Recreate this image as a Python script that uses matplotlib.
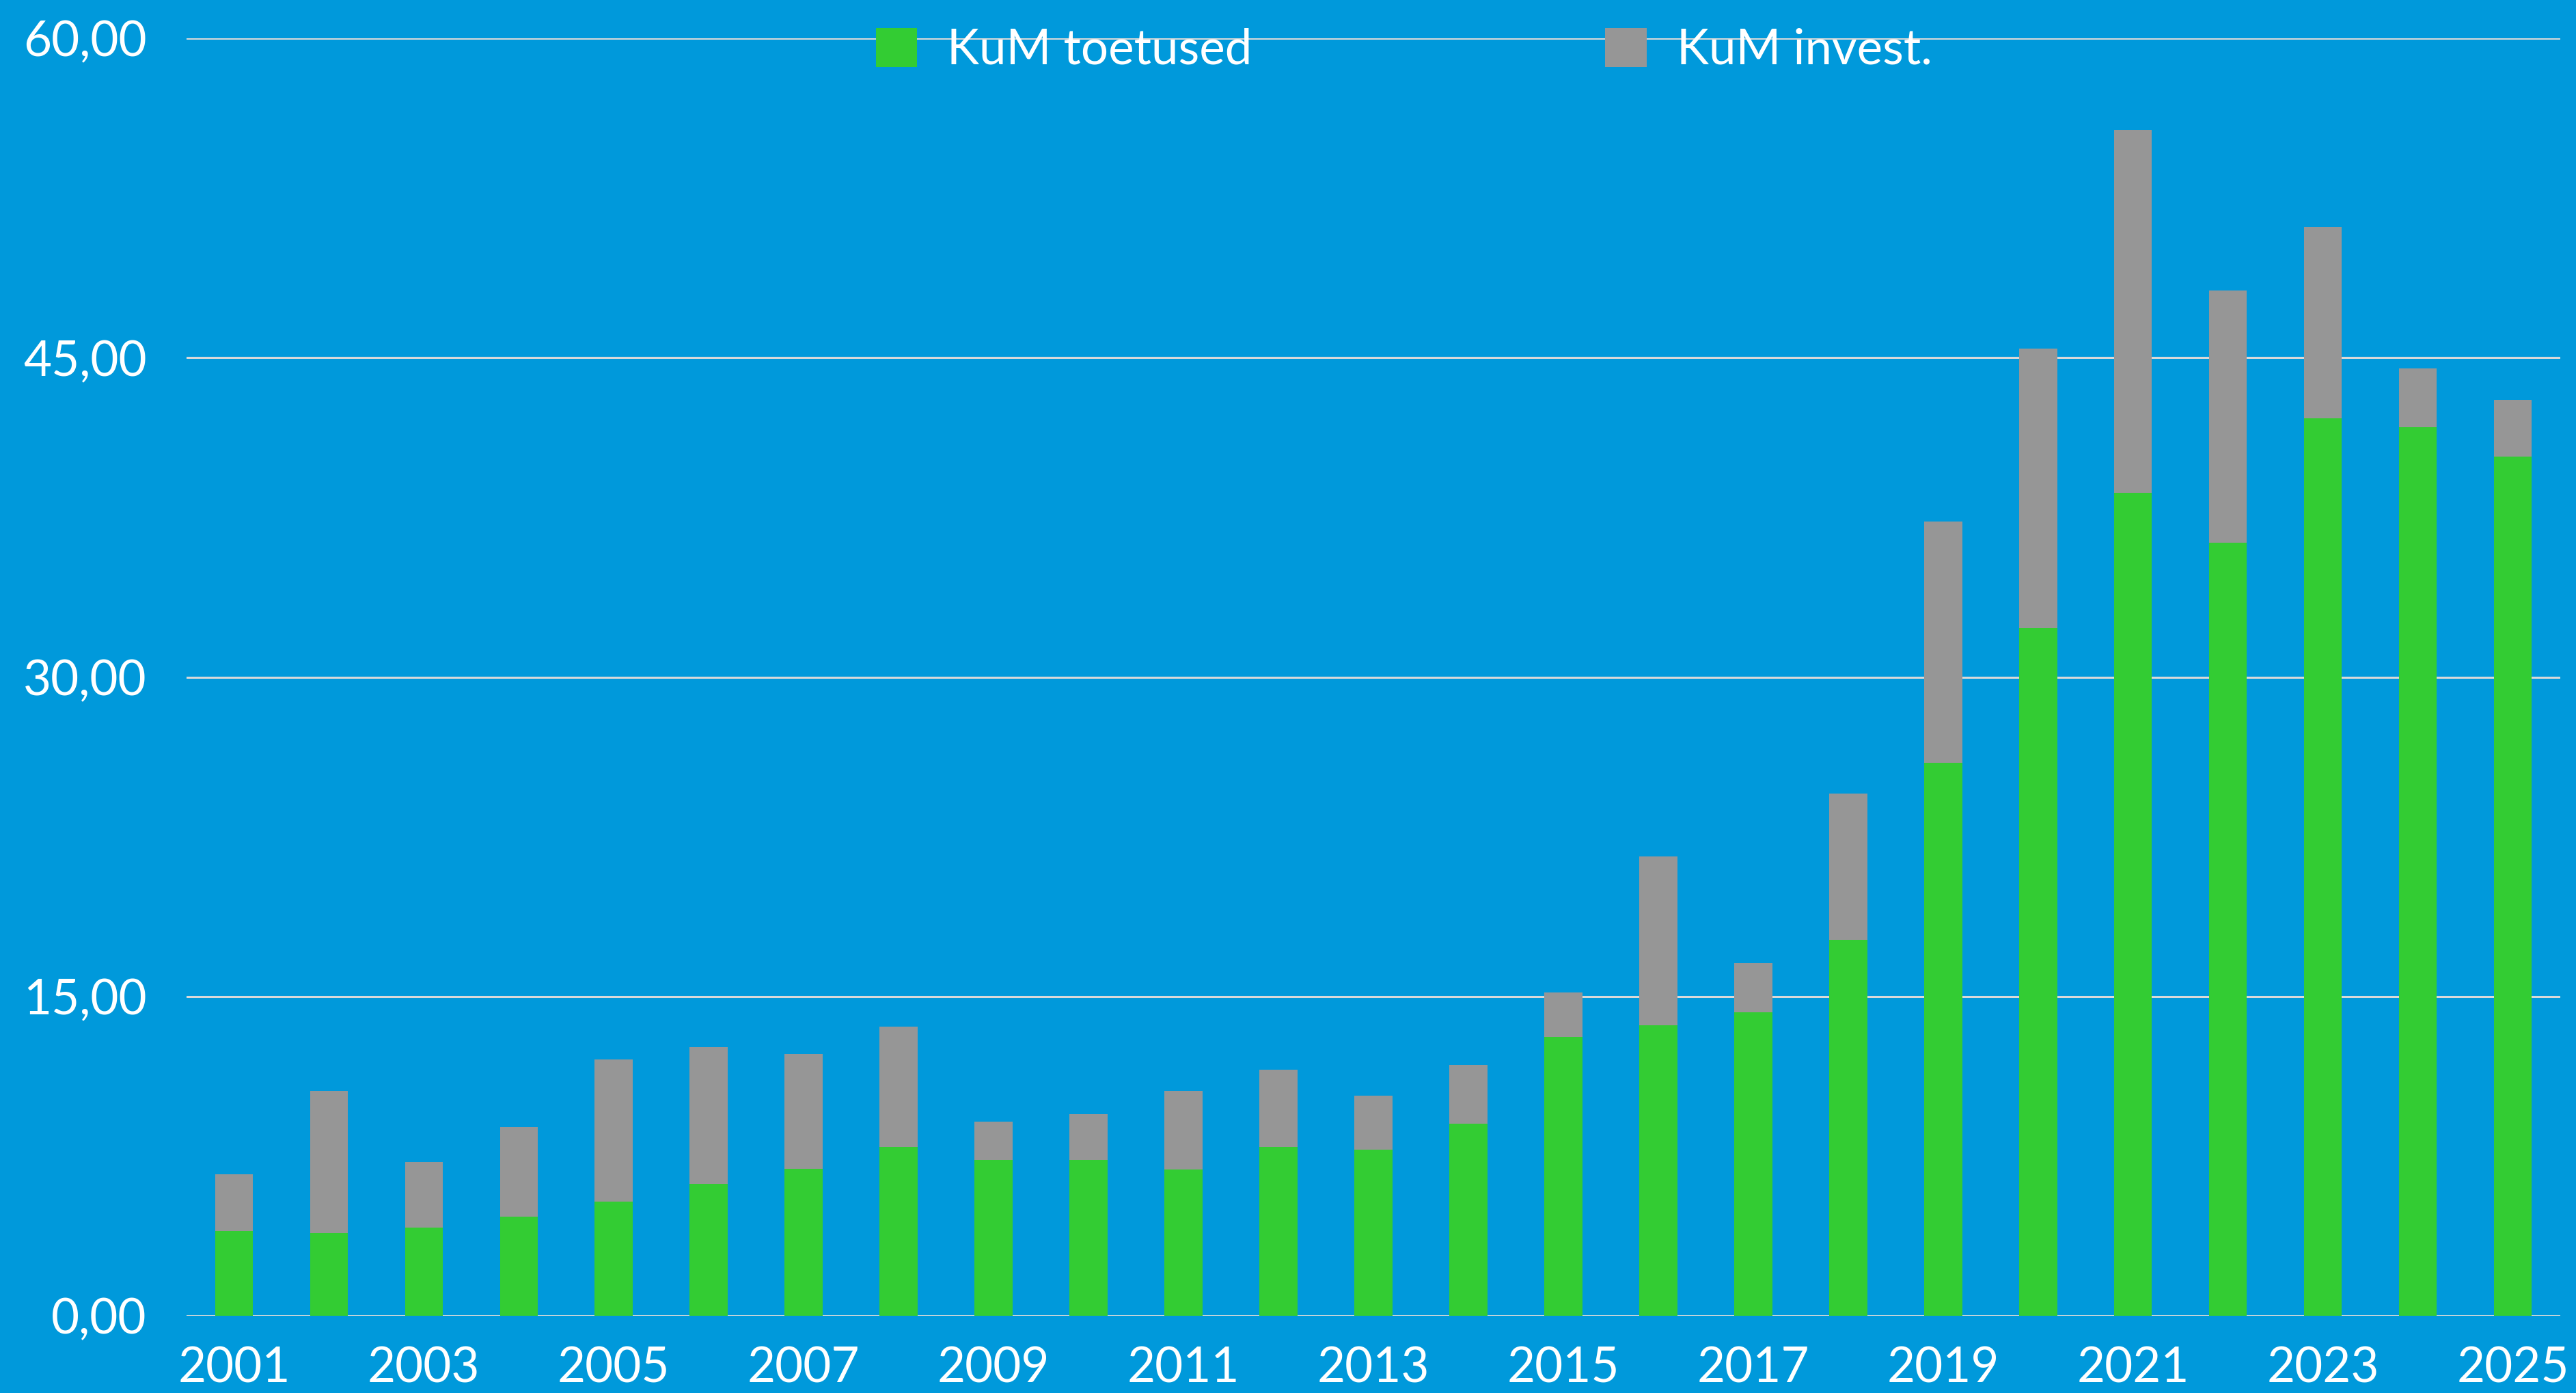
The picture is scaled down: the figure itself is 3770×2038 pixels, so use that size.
import matplotlib
matplotlib.use("Agg")
import matplotlib.pyplot as plt
import numpy as np

# data
years = list(range(2001, 2026))
kum_toetused = [3.98, 3.89, 4.14, 4.65, 5.36, 6.20, 6.91, 7.93, 7.32, 7.32,
                6.86, 7.94, 7.79, 9.02, 13.11, 13.65, 14.26, 17.66, 25.98, 32.31,
                38.65, 36.31, 42.15, 41.73, 40.35]
kum_invest = [2.67, 6.67, 3.08, 4.21, 6.68, 6.42, 5.39, 5.65, 1.80, 2.16,
              3.70, 3.63, 2.54, 2.78, 2.08, 7.94, 2.32, 6.86, 11.32, 13.12,
              17.05, 11.84, 8.99, 2.76, 2.67]
y_ticks = [0, 15, 30, 45, 60]
y_tick_labels = ["0,00", "15,00", "30,00", "45,00", "60,00"]

BG = '#0099DB'
GREEN = '#33CC33'
GREY = '#969696'
GRID = '#D9D9D9'

plt.rcParams['font.family'] = ['Lato', 'DejaVu Sans']

fig = plt.figure(figsize=(37.7, 20.38), dpi=100, facecolor=BG)
ax = fig.add_axes([0.0724, 0.0554, 0.9215, 0.9171])
ax.set_facecolor(BG)

x = np.arange(len(years))
ax.bar(x, kum_toetused, width=0.4, color=GREEN, label='KuM toetused', zorder=3)
ax.bar(x, kum_invest, width=0.4, bottom=kum_toetused, color=GREY,
       label='KuM invest.', zorder=3)

ax.set_xlim(-0.5, len(years) - 0.5)
ax.set_ylim(0, 60)

ax.set_yticks(y_ticks)
ax.set_yticklabels(y_tick_labels)
ax.set_xticks(x[::2])
ax.set_xticklabels([str(y) for y in years[::2]])

ax.tick_params(axis='both', length=0, labelsize=51, colors='white')
ax.tick_params(axis='x', pad=32)
ax.tick_params(axis='y', pad=42)

ax.grid(axis='y', color=GRID, linewidth=2.2, zorder=0)
ax.set_axisbelow(True)
for s in ax.spines.values():
    s.set_visible(False)

fig.legend(loc='center', bbox_to_anchor=(0.545, 0.964), ncol=2, frameon=False,
           fontsize=51, labelcolor='white', handlelength=0.85, handleheight=0.85,
           handletextpad=0.62, columnspacing=7.3, borderpad=0)

fig.savefig('out.png', dpi=100, facecolor=BG)
